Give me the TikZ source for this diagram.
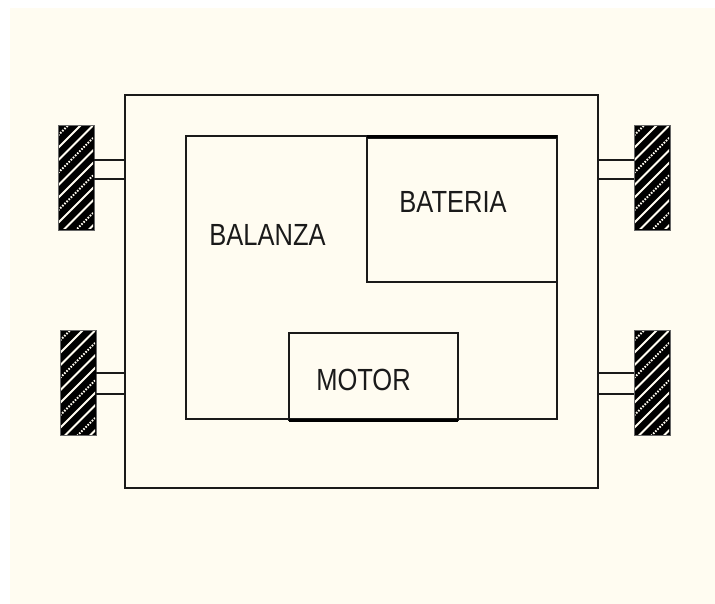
\documentclass[tikz,border=0pt]{standalone}
\usepackage{fontspec}
\setmainfont{Liberation Sans}
\definecolor{cream}{HTML}{FFFCF1}
\definecolor{ink}{HTML}{1A1A1A}
\tikzset{
  x=1pt,y=-1pt,
  box/.style={draw=ink,line width=1.3pt},
  wheel/.style={draw=black!60,line width=.6pt},
  stripe/.style={cream,line width=2pt},
  dotstripe/.style={cream,line width=2pt,dash pattern=on 1.5pt off 1.5pt},
  axle/.style={draw=ink,line width=1.2pt},
  lbl/.style={text=ink,inner sep=0pt,anchor=center,font=\fontsize{25.5}{28}\selectfont}
}
\newcommand{\wheelat}[2]{%
  \fill[black] (#1,#2) rectangle (#1+36,#2+105);
  \begin{scope}
    \clip (#1+1,#2+1) rectangle (#1+35,#2+104);
    \foreach \k in {0,...,11}{
      \pgfmathtruncatemacro{\rem}{mod(\k,3)}
      \ifnum\rem=1
        \draw[dotstripe] (#1-2,#2+\k*12.5) -- (#1+38,#2+\k*12.5-40);
      \else
        \draw[stripe] (#1-2,#2+\k*12.5) -- (#1+38,#2+\k*12.5-40);
      \fi
    }
  \end{scope}
  \draw[wheel] (#1,#2) rectangle (#1+36,#2+105);
}
\newcommand{\tallcaps}[1]{\scalebox{1}[1.2]{#1}}
\begin{document}
\begin{tikzpicture}
\useasboundingbox (0,0) rectangle (715,604);
\fill[white] (0,0) rectangle (715,604);
\fill[cream] (10,8) rectangle (715,604);
\coordinate (oa) at (125,95); \coordinate (ob) at (598,488);
\draw[box] (oa) rectangle (ob);
\coordinate (ba) at (186,136); \coordinate (bb) at (557,419);
\draw[box] (ba) rectangle (bb);
\coordinate (ca) at (367,138); \coordinate (cb) at (557,282);
\draw[box] (ca) rectangle (cb);
\draw[line width=2.6pt,black] (367,136.5) -- (557,136.5);
\coordinate (ma) at (289,333); \coordinate (mb) at (458,420);
\draw[box] (ma) rectangle (mb);
\draw[line width=2.6pt,black] (289,420.5) -- (458,420.5);
\wheelat{58}{125}
\wheelat{60}{330}
\wheelat{634}{125}
\wheelat{634}{330}
\foreach \xa/\xb/\ya/\yb in {94/125/160/179, 96/125/373/394, 598/634/160/179, 598/634/373/394}{
  \draw[axle] (\xa,\ya) -- (\xb,\ya);
  \draw[axle] (\xa,\yb) -- (\xb,\yb);
}
\node[lbl] (balanza) at (267.5,235) {\tallcaps{BALANZA}};
\node[lbl] (bateria) at (453,202) {\tallcaps{BATERIA}};
\node[lbl] (motor) at (363.5,380) {\tallcaps{MOTOR}};
\end{tikzpicture}
\end{document}
